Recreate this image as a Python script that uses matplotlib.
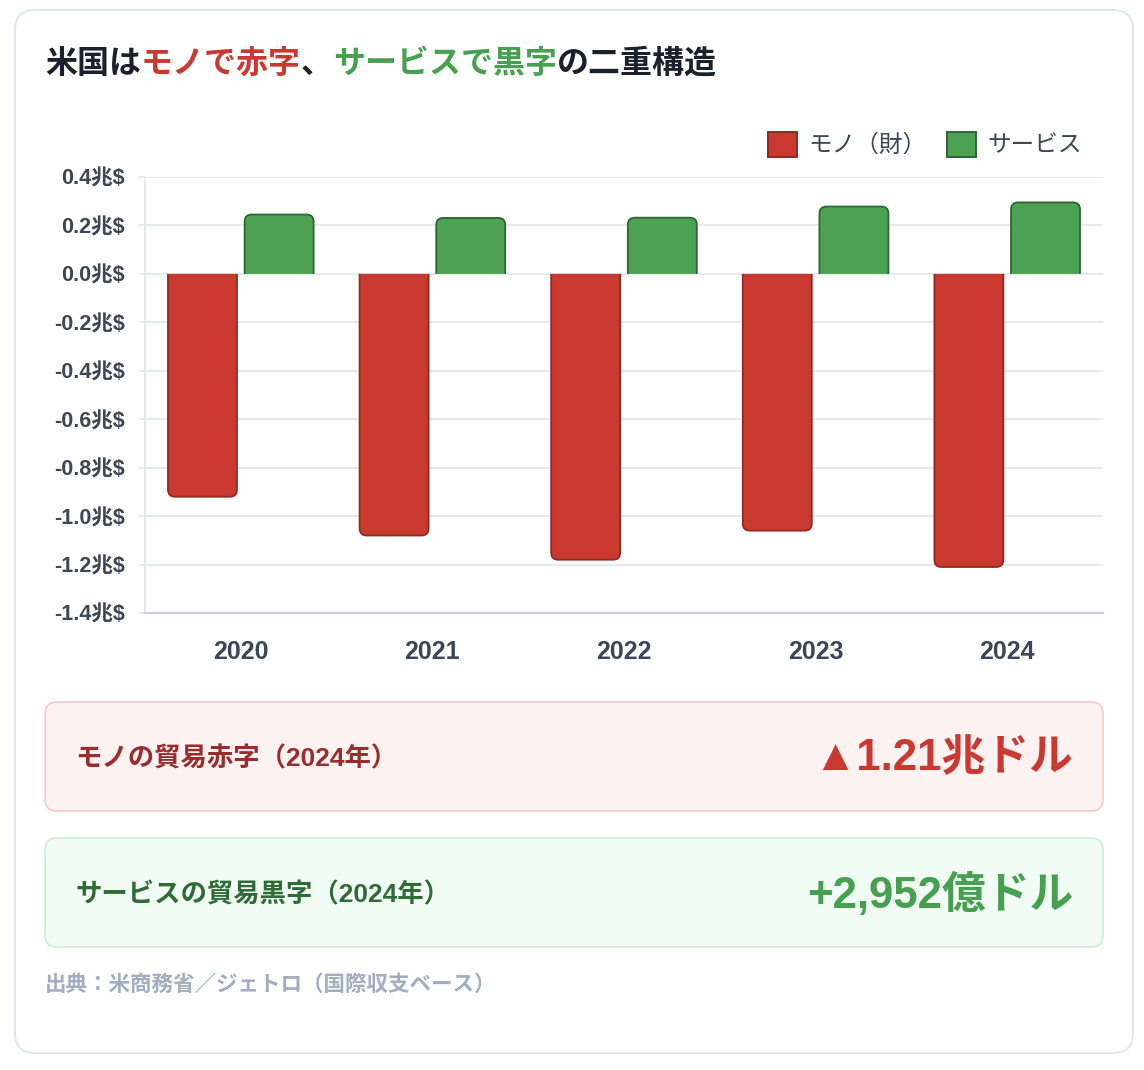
import matplotlib
matplotlib.use('Agg')
import matplotlib.pyplot as plt
from matplotlib.patches import FancyBboxPatch, Rectangle, PathPatch
from matplotlib.path import Path
from matplotlib.transforms import IdentityTransform
import numpy as np

# ---------------- data ----------------
years = ['2020', '2021', '2022', '2023', '2024']
goods = [-0.92, -1.08, -1.18, -1.06, -1.21]        # 兆ドル
services = [0.245, 0.231, 0.232, 0.278, 0.295]     # 兆ドル
series_names = ['モノ（財）', 'サービス']
yticks = [0.4, 0.2, 0.0, -0.2, -0.4, -0.6, -0.8, -1.0, -1.2, -1.4]
ytick_labels = [f'{v:.1f}兆$' for v in yticks]
title_parts = [('米国は', 'dark'), ('モノで赤字', 'red'), ('、', 'dark'),
               ('サービスで黒字', 'green'), ('の二重構造', 'dark')]
summary_labels = ['モノの貿易赤字（2024年）', 'サービスの貿易黒字（2024年）']
summary_values = ['▲1.21兆ドル', '+2,952億ドル']
source_text = '出典：米商務省／ジェトロ（国際収支ベース）'

# ---------------- style ----------------
W, H = 1144, 1070
LAT = ['Liberation Sans', 'Noto Sans CJK JP', 'DejaVu Sans']
CJK = ['Noto Sans CJK JP', 'DejaVu Sans']
plt.rcParams['font.family'] = LAT
DARK = '#1A202C'
TICK = '#3B4656'
RED_FC, RED_EC = '#C9392F', '#8F2A22'
GRN_FC, GRN_EC = '#4CA153', '#2C6631'
TITLE_COL = {'dark': DARK, 'red': '#C9392F', 'green': '#46A050'}

fig = plt.figure(figsize=(W / 100, H / 100), dpi=100)
fig.patch.set_facecolor('white')
ID = IdentityTransform()


def px(x, y):
    return x, H - y


# card
card = FancyBboxPatch(px(15, 1053), 1118, 1043,
                      boxstyle='round,pad=0,rounding_size=20',
                      transform=ID, facecolor='white', edgecolor='#E2E6EC',
                      linewidth=1.4, zorder=0)
fig.add_artist(card)

# title (multi-colour)
renderer = fig.canvas.get_renderer()
cx = 45
for txt, col in title_parts:
    t = fig.text(*px(cx, 64), txt, transform=ID, fontsize=23,
                 fontweight='bold', color=TITLE_COL[col], family=CJK,
                 va='center', ha='left')
    bb = t.get_window_extent(renderer)
    cx += bb.width

# ---------------- axes ----------------
ax = fig.add_axes([145 / W, 1 - 613 / H, 958 / W, 436 / H])
ax.set_facecolor('none')
ax.set_xlim(-0.5, 4.5)
ax.set_ylim(-1.4, 0.4)
x = np.arange(len(years))
bw = 0.36
b1 = ax.bar(x - 0.2, goods, width=bw, color=RED_FC, zorder=3)
b2 = ax.bar(x + 0.2, services, width=bw, color=GRN_FC, zorder=3)


def round_bar(rect, fc, ec, r_px=7):
    x0, y0 = rect.get_x(), rect.get_y()
    w, h = rect.get_width(), rect.get_height()
    rect.set_visible(False)
    (p0x, p0y), (p1x, p1y) = ax.transData.transform([(0, 0), (1, 1)])
    rx = r_px / abs(p1x - p0x)
    ry = r_px / abs(p1y - p0y)
    x1 = x0 + w
    base, tip = y0, y0 + h
    s = 1 if h >= 0 else -1
    verts = [(x0, base), (x0, tip - s * ry), (x0, tip), (x0 + rx, tip),
             (x1 - rx, tip), (x1, tip), (x1, tip - s * ry), (x1, base)]
    codes = [Path.MOVETO, Path.LINETO, Path.CURVE3, Path.CURVE3,
             Path.LINETO, Path.CURVE3, Path.CURVE3, Path.LINETO]
    fill = Path(verts + [(x0, base)], codes + [Path.CLOSEPOLY])
    ax.add_patch(PathPatch(fill, facecolor=fc, edgecolor='none', zorder=3))
    ax.add_patch(PathPatch(Path(verts, codes), facecolor='none',
                           edgecolor=ec, linewidth=1.3, zorder=4,
                           capstyle='butt', joinstyle='round'))


for r in b1:
    round_bar(r, RED_FC, RED_EC)
for r in b2:
    round_bar(r, GRN_FC, GRN_EC)

ax.set_yticks(yticks)
ax.set_yticklabels(ytick_labels)
ax.set_xticks(x)
ax.set_xticklabels(years)
ax.yaxis.grid(True, color='#E5E7EB', linewidth=1.3, zorder=0)
ax.set_axisbelow(True)
for s in ['top', 'right']:
    ax.spines[s].set_visible(False)
ax.spines['left'].set_color('#E3E6EA')
ax.spines['left'].set_linewidth(1.3)
ax.spines['bottom'].set_color('#CDD1D8')
ax.spines['bottom'].set_linewidth(1.6)
ax.tick_params(axis='y', length=4.3, width=1.3, color='#E5E7EB', pad=10.5,
               labelsize=15.5, labelcolor=TICK)
ax.tick_params(axis='x', length=0, pad=19.5, labelsize=18, labelcolor=TICK)
for lab in ax.get_yticklabels() + ax.get_xticklabels():
    lab.set_fontweight('bold')

# ---------------- legend ----------------
leg = [(768, RED_FC, RED_EC, series_names[0]), (947, GRN_FC, GRN_EC, series_names[1])]
for lx, fc, ec, name in leg:
    fig.add_artist(Rectangle(px(lx, 157), 29, 25, transform=ID,
                             facecolor=fc, edgecolor=ec, linewidth=1.4))
    fig.text(*px(lx + 40, 146), name, transform=ID, fontsize=17,
             color=TICK, va='center', ha='left')

# ---------------- summary boxes ----------------
boxes = [(702, '#FDF2F2', '#F5CACA', '#9B2C2C', '#C9392F'),
         (838, '#F0FCF4', '#C6F1D2', '#2F6B35', '#46A050')]
for (top, fc, ec, lc, vc), lab, val in zip(boxes, summary_labels, summary_values):
    fig.add_artist(FancyBboxPatch(px(45, top + 109), 1058, 109,
                                  boxstyle='round,pad=0,rounding_size=12',
                                  transform=ID, facecolor=fc, edgecolor=ec,
                                  linewidth=1.2))
    yc = top + 57
    fig.text(*px(75, yc), lab, transform=ID, fontsize=19,
             fontweight='bold', color=lc, va='center', ha='left')
    fig.text(*px(1073, yc), val, transform=ID, fontsize=31.5,
             fontweight='bold', color=vc, va='center', ha='right')

fig.text(*px(45, 985), source_text, transform=ID, fontsize=15.5,
         fontweight='bold', color='#A0AEC0', va='center', ha='left')

fig.savefig('out.png', dpi=100, facecolor='white')
